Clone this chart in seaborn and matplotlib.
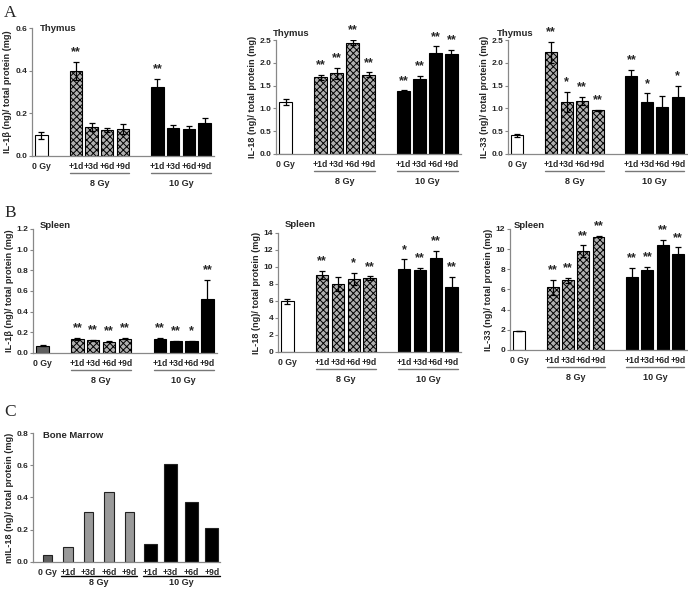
import numpy as np
import pandas as pd
import matplotlib
matplotlib.use('Agg')
import matplotlib.pyplot as plt
import matplotlib.transforms as mtrans
import seaborn as sns

sns.set_theme(style='white')
plt.rcParams['font.family'] = ['Liberation Sans', 'DejaVu Sans']
plt.rcParams['font.weight'] = 'bold'
plt.rcParams['hatch.linewidth'] = 0.7

# Data
groups = ['0 Gy', '8 Gy', '8 Gy', '8 Gy', '8 Gy', '10 Gy', '10 Gy', '10 Gy', '10 Gy']
day_labels = ['0 Gy', '+1d', '+3d', '+6d', '+9d', '+1d', '+3d', '+6d', '+9d']

thy_il1b = [0.097, 0.399, 0.137, 0.121, 0.127, 0.322, 0.132, 0.126, 0.157]
thy_il1b_err = [0.016, 0.044, 0.020, 0.008, 0.025, 0.039, 0.011, 0.015, 0.019]
thy_il1b_sig = ['', '**', '', '', '', '**', '', '', '']

thy_il18 = [1.14, 1.68, 1.77, 2.44, 1.74, 1.39, 1.64, 2.22, 2.19]
thy_il18_err = [0.06, 0.05, 0.12, 0.06, 0.055, 0.01, 0.07, 0.14, 0.09]
thy_il18_sig = ['', '**', '**', '**', '**', '**', '**', '**', '**']

thy_il33 = [0.41, 2.23, 1.14, 1.17, 0.955, 1.71, 1.13, 1.04, 1.25]
thy_il33_err = [0.035, 0.23, 0.23, 0.09, 0.01, 0.13, 0.20, 0.24, 0.25]
thy_il33_sig = ['', '**', '*', '**', '**', '**', '*', '', '*']

spl_il1b = [0.071, 0.133, 0.123, 0.110, 0.140, 0.139, 0.113, 0.113, 0.519]
spl_il1b_err = [0.003, 0.012, 0.005, 0.008, 0.008, 0.005, 0.003, 0.005, 0.19]
spl_il1b_sig = ['', '**', '**', '**', '**', '**', '**', '*', '**']

spl_il18 = [5.99, 9.03, 8.0, 8.6, 8.67, 9.82, 9.6, 11.04, 7.7]
spl_il18_err = [0.3, 0.5, 0.85, 0.75, 0.25, 1.1, 0.28, 0.9, 1.17]
spl_il18_sig = ['', '**', '', '*', '**', '*', '**', '**', '**']

spl_il33 = [1.85, 6.2, 6.9, 9.78, 11.25, 7.19, 7.89, 10.37, 9.51]
spl_il33_err = [0.0, 0.75, 0.23, 0.6, 0.05, 0.93, 0.33, 0.57, 0.66]
spl_il33_sig = ['', '**', '**', '**', '**', '**', '**', '**', '**']

bm_il18 = [0.045, 0.093, 0.313, 0.436, 0.308, 0.113, 0.605, 0.374, 0.21]

# Layout (bar centres in slot units)
bar_pos = [0, 2.2, 3.2, 4.2, 5.2, 7.4, 8.4, 9.4, 10.4]
hue_order = ['0 Gy', '8 Gy', '10 Gy']

fig = plt.figure(figsize=(6.88, 5.9), dpi=100)


def style_axes(ax, ymax, ystep, fmt, ylabel):
    ax.set_ylim(0, ymax)
    ticks = np.arange(0, ymax + ystep / 2, ystep)
    ax.set_yticks(ticks)
    ax.set_yticklabels([fmt.format(t) for t in ticks], fontsize=6, fontweight='bold')
    ax.set_ylabel(ylabel, fontsize=6.6, fontweight='bold', labelpad=2)
    ax.set_xlabel('')
    for s in ['top', 'right']:
        ax.spines[s].set_visible(False)
    for s in ['left', 'bottom']:
        ax.spines[s].set_color('#888888')
        ax.spines[s].set_linewidth(0.9)
    ax.tick_params(axis='y', length=2, width=0.8, color='#888888', pad=1.5, left=True)
    ax.tick_params(axis='x', length=0, pad=4)
    ax.set_facecolor('none')


def group_marks(ax, spans, line_dy, text_dy, line_color):
    base = ax.get_xaxis_transform()
    ltr = base + mtrans.ScaledTranslation(0, -line_dy / 100, fig.dpi_scale_trans)
    ttr = base + mtrans.ScaledTranslation(0, -text_dy / 100, fig.dpi_scale_trans)
    for name, x0, x1 in spans:
        ax.plot([x0, x1], [0, 0], color=line_color, lw=1.0, transform=ltr, clip_on=False)
        ax.text((x0 + x1) / 2, 0, name, transform=ttr, ha='center', va='center',
                fontsize=6.5, fontweight='bold')


def draw_panel(rect, vals, errs, sig, ymax, ystep, fmt, ylabel, title, title_xy,
               zero_color):
    ax = fig.add_axes(rect)
    df = pd.DataFrame({'pos': bar_pos, 'value': vals, 'group': groups})
    sns.barplot(data=df, x='pos', y='value', hue='group', hue_order=hue_order,
                palette={'0 Gy': zero_color, '8 Gy': '#b0b0b0', '10 Gy': 'black'},
                native_scale=True, dodge=False, width=0.78, edgecolor='black',
                linewidth=0.8, legend=False, errorbar=None, ax=ax)
    for p in ax.containers[1]:
        p.set_hatch('xxxxx')
    ax.errorbar(bar_pos, vals, yerr=errs, fmt='none', ecolor='black',
                elinewidth=0.9, capsize=2.2, capthick=0.9, zorder=5)
    for x, v, e, s in zip(bar_pos, vals, errs, sig):
        if s:
            ax.annotate(s, (x, v + e), xytext=(0, 2.5), textcoords='offset points',
                        ha='center', va='bottom', fontsize=9, fontweight='bold',
                        annotation_clip=False)
    ax.set_xlim(-0.6, 11.0)
    ax.set_xticks(bar_pos)
    ax.set_xticklabels(day_labels, fontsize=6.2, fontweight='bold')
    style_axes(ax, ymax, ystep, fmt, ylabel)
    ax.text(title_xy[0], title_xy[1], title, transform=ax.transAxes, ha='left',
            va='center', fontsize=6.8, fontweight='bold')
    group_marks(ax, [('8 Gy', 1.8, 5.6), ('10 Gy', 7.0, 10.8)], 17, 28, '#777777')
    return ax


draw_panel([0.0465, 0.7356, 0.2645, 0.2169], thy_il1b, thy_il1b_err, thy_il1b_sig,
           0.6, 0.2, '{:.1f}', 'IL-1β (ng)/ total protein (mg)', 'Thymus',
           (0.044, 1.0), 'white')
draw_panel([0.4012, 0.7390, 0.2689, 0.1932], thy_il18, thy_il18_err, thy_il18_sig,
           2.5, 0.5, '{:.1f}', 'IL-18 (ng)/ total protein (mg)', 'Thymus',
           (-0.016, 1.06), 'white')
draw_panel([0.7384, 0.7390, 0.2602, 0.1932], thy_il33, thy_il33_err, thy_il33_sig,
           2.5, 0.5, '{:.1f}', 'IL-33 (ng)/ total protein (mg)', 'Thymus',
           (-0.06, 1.06), 'white')
draw_panel([0.048, 0.4017, 0.2674, 0.2102], spl_il1b, spl_il1b_err, spl_il1b_sig,
           1.2, 0.2, '{:.1f}', 'IL-1β (ng)/ total protein (mg)', 'Spleen',
           (0.038, 1.03), '#606060')
draw_panel([0.4041, 0.4034, 0.266, 0.2017], spl_il18, spl_il18_err, spl_il18_sig,
           14, 2, '{:.0f}', 'IL-18 (ng)/ total protein (mg)', 'Spleen',
           (0.038, 1.07), 'white')
draw_panel([0.7413, 0.4068, 0.2573, 0.2051], spl_il33, spl_il33_err, spl_il33_sig,
           12, 2, '{:.0f}', 'IL-33 (ng)/ total protein (mg)', 'Spleen',
           (0.023, 1.03), 'white')

# Panel C: bone marrow, no error bars
axc = fig.add_axes([0.048, 0.0475, 0.2718, 0.2186])
dfc = pd.DataFrame({'pos': list(range(len(bm_il18))), 'value': bm_il18, 'group': groups})
sns.barplot(data=dfc, x='pos', y='value', hue='group', hue_order=hue_order,
            palette={'0 Gy': '#606060', '8 Gy': '#9a9a9a', '10 Gy': 'black'},
            native_scale=True, dodge=False, width=0.45, edgecolor='#222222',
            linewidth=0.8, legend=False, errorbar=None, ax=axc)
for p in axc.containers[2]:
    cx = p.get_x() + p.get_width() / 2
    p.set_width(0.63)
    p.set_x(cx - 0.315)
axc.set_xlim(-0.7, 8.4)
axc.set_xticks(range(len(bm_il18)))
axc.set_xticklabels(day_labels, fontsize=6.2, fontweight='bold')
style_axes(axc, 0.8, 0.2, '{:.1f}', 'mIL-18 (ng)/ total protein (mg)')
axc.text(0.053, 0.98, 'Bone Marrow', transform=axc.transAxes, ha='left', va='center',
         fontsize=6.8, fontweight='bold')
group_marks(axc, [('8 Gy', 0.65, 4.35), ('10 Gy', 4.65, 8.4)], 14, 21, 'black')

for letter, y in [('A', 0.978), ('B', 0.639), ('C', 0.302)]:
    fig.text(0.006, y, letter, fontsize=12.5, fontweight='normal', va='center',
             ha='left', family=['Liberation Serif', 'DejaVu Serif'])

fig.savefig('out.png', dpi=100)
